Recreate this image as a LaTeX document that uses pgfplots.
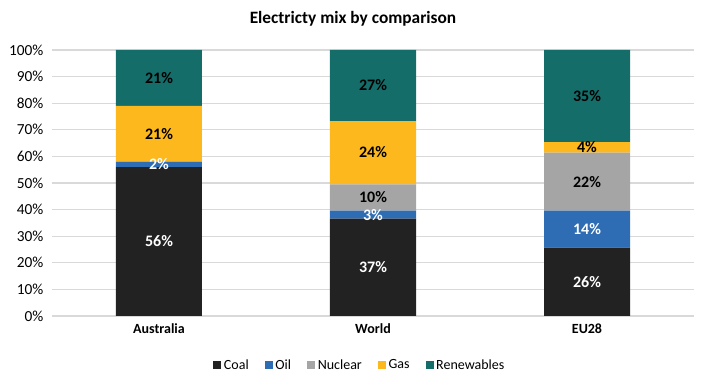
\documentclass[border=0pt]{standalone}
\usepackage{fontspec}
\setmainfont{Carlito}
\usepackage{pgfplots}
\pgfplotsset{compat=1.18}
\usepackage{pgfplotstable}
\definecolor{coal}{HTML}{222222}
\definecolor{oil}{HTML}{2E6DB4}
\definecolor{nuclear}{HTML}{A5A5A5}
\definecolor{gas}{HTML}{FDB81E}
\definecolor{ren}{HTML}{156D6A}
\definecolor{gridc}{HTML}{D9D9D9}

% stacked shares (normalised to 100)
\pgfplotstableread{
x coal oil nuclear gas ren
0 56.0 2.0 0.0 21.0 21.0
1 36.6 3.0 9.9 23.8 26.7
2 25.7 13.9 21.8 4.0 34.6
}\mix
% label positions (middle of each segment) and texts
\pgfplotstableread{
x y label
0 28.0 56\%
0 57.0 2\%
1 18.3 37\%
1 38.1 3\%
2 12.9 26\%
2 32.7 14\%
}\whitelabels
\pgfplotstableread{
x y label
0 68.5 21\%
0 89.5 21\%
1 44.6 10\%
1 61.6 24\%
1 86.7 27\%
2 50.5 22\%
2 63.4 4\%
2 82.7 35\%
}\blacklabels

\begin{document}
\begin{tikzpicture}
\begin{axis}[
  name=main,
  at={(0,0)}, anchor=south west,
  scale only axis, width=481.5pt, height=199.5pt,
  ybar stacked, bar width=64.5pt,
  xmin=-0.5, xmax=2.5, ymin=0, ymax=100,
  xtick={0,1,2}, xticklabels={Australia,World,EU28},
  x tick label style={font=\bfseries\fontsize{10.5}{12}\selectfont, yshift=-2pt},
  ytick={0,10,...,100},
  yticklabel={\pgfmathprintnumber{\tick}\%},
  /pgf/number format/assume math mode=true,
  y tick label style={font=\fontsize{11.5}{12}\selectfont, xshift=-3pt},
  ymajorgrids, grid style={gridc, line width=0.8pt},
  axis line style={draw=none},
  major tick style={draw=none},
  title={\bfseries Electricty mix by comparison},
  title style={font=\bfseries\fontsize{13}{15}\selectfont, yshift=8pt, xshift=-15pt},
  legend style={at={(0.48,-0.185)}, anchor=center, draw=none,
    legend columns=-1, font=\fontsize{10.5}{12}\selectfont,
    /tikz/every even column/.append style={column sep=10pt}},
  legend image code/.code={\fill[#1] (0pt,-3pt) rectangle (6pt,3pt);},
]
\addplot[fill=coal, draw=none] table[x=x, y=coal] {\mix};
\addplot[fill=oil, draw=none] table[x=x, y=oil] {\mix};
\addplot[fill=nuclear, draw=none] table[x=x, y=nuclear] {\mix};
\addplot[fill=gas, draw=none] table[x=x, y=gas] {\mix};
\addplot[fill=ren, draw=none] table[x=x, y=ren] {\mix};
\legend{Coal,Oil,Nuclear,Gas,Renewables}
\end{axis}
\begin{axis}[
  at={(0,0)}, anchor=south west,
  scale only axis, width=481.5pt, height=199.5pt,
  xmin=-0.5, xmax=2.5, ymin=0, ymax=100,
  hide axis,
]
\addplot[draw=none, mark=none, nodes near coords, point meta=explicit symbolic,
  every node near coord/.style={anchor=center, text=white, font=\bfseries\fontsize{12}{13}\selectfont}]
  table[x=x, y=y, meta=label] {\whitelabels};
\addplot[draw=none, mark=none, nodes near coords, point meta=explicit symbolic,
  every node near coord/.style={anchor=center, text=black, font=\bfseries\fontsize{12}{13}\selectfont}]
  table[x=x, y=y, meta=label] {\blacklabels};
\end{axis}
\pgfresetboundingbox
\path[use as bounding box] (-39pt,-54pt) rectangle (492pt,237pt);
\end{tikzpicture}
\end{document}
